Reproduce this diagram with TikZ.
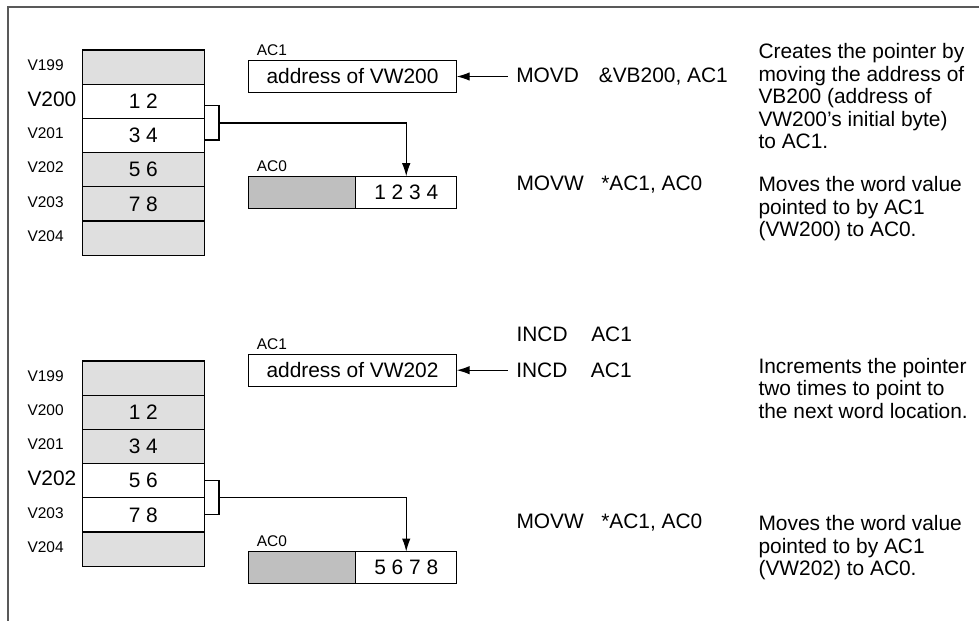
\documentclass[tikz,border=0pt]{standalone}
\usepackage{fontspec}
\setmainfont{Liberation Sans}
\usetikzlibrary{positioning,arrows.meta}

\newcommand\tagfont{\fontsize{8.8}{10}\selectfont}

\tikzset{
  cell/.style={draw, outer sep=0pt, inner sep=0pt, minimum width=2.43cm, minimum height=0.684cm},
  reg/.style={draw, outer sep=0pt, inner sep=0pt, minimum height=0.64cm},
  tag/.style={font=\tagfont, inner sep=0pt},
  instr/.style={anchor=west, inner xsep=0.16cm, inner ysep=0pt},
  note/.style={anchor=north west, align=left, inner sep=0pt},
  ptr/.style={-{Latex[length=2.6mm,width=1.7mm]}},
}

\begin{document}
\begin{tikzpicture}[x=0.02cm, y=-0.02cm, font=\fontsize{11.9}{12.8}\selectfont, line width=0.6pt]
  \useasboundingbox (0,0) rectangle (979,621);
  \draw[line width=1.1pt, black!65] (8,621) -- (8,7) -- (979,7);  % frame

  % top half: pointer to VW200
  \foreach \adr/\val/\shade/\lsize [count=\i from 0] in
      {199//gray!25/\tagfont, 200/1 2/white/, 201/3 4/white/\tagfont,
       202/5 6/gray!25/\tagfont, 203/7 8/gray!25/\tagfont, 204//gray!25/\tagfont}{
    \node[cell, fill=\shade] (t\adr) at (143.35, {67.1+34.2*\i}) {\val};
    \node[anchor=west, inner sep=0pt] (lt\adr) at (27, {65+34.2*\i}) {\lsize V\adr};
  }
  \coordinate (tj) at (219,123);
  \draw ([yshift=-0.09cm]t200.east) -| (tj) |- ([yshift=-0.09cm]t201.east);

  \node[reg, minimum width=4.17cm] (ta1) at (352.5,76.5) {address of VW200};
  \node[tag, above right=0.08cm and 0.16cm of ta1.north west] (ta1l) {AC1};
  \node[reg, fill=gray!50, minimum width=2.15cm] (ta0) at (302,192.2) {};
  \node[reg, minimum width=2.02cm, right=0pt of ta0] (tv) {1 2 3 4};
  \node[tag, above right=0.08cm and 0.16cm of ta0.north west] (ta0l) {AC0};
  \draw[ptr] (tj) -| (tv.north);

  \node[instr, right=1.02cm of ta1] (ti1) {MOVD\hspace{0.95em}\&VB200, AC1};
  \node[instr] (ti2) at (508,185) {MOVW\hspace{0.83em}*AC1, AC0};
  \draw[ptr] (ti1) -- (ta1);

  \node[note] (tn1) at (758,43) {Creates the pointer by\\moving the address of\\VB200 (address of\\VW200’s initial byte)\\to AC1.};
  \node[note] (tn2) at (758,176) {Moves the word value\\pointed to by AC1\\(VW200) to AC0.};

  % bottom half: pointer moved on to VW202
  \foreach \adr/\val/\shade/\lsize [count=\i from 0] in
      {199//gray!25/\tagfont, 200/1 2/gray!25/\tagfont, 201/3 4/gray!25/\tagfont,
       202/5 6/white/, 203/7 8/white/\tagfont, 204//gray!25/\tagfont}{
    \node[cell, fill=\shade] (b\adr) at (143.35, {378.1+34.2*\i}) {\val};
    \node[anchor=west, inner sep=0pt] (lb\adr) at (27, {376+34.2*\i}) {\lsize V\adr};
  }
  \coordinate (bj) at (219,497.5);
  \draw (b202.east) -| (bj) |- (b203.east);

  \node[reg, minimum width=4.17cm] (ba1) at (352.5,370.2) {address of VW202};
  \node[tag, above right=0.08cm and 0.16cm of ba1.north west] (ba1l) {AC1};
  \node[reg, fill=gray!50, minimum width=2.15cm] (ba0) at (302,567.5) {};
  \node[reg, minimum width=2.02cm, right=0pt of ba0] (bv) {5 6 7 8};
  \node[tag, above right=0.08cm and 0.16cm of ba0.north west] (ba0l) {AC0};
  \draw[ptr] (bj) -| (bv.north);

  \node[instr] (bi0) at (508,334) {INCD\hspace{1.13em}AC1};
  \node[instr, right=1.02cm of ba1] (bi1) {INCD\hspace{1.13em}AC1};
  \node[instr] (bi2) at (508,522.7) {MOVW\hspace{0.83em}*AC1, AC0};
  \draw[ptr] (bi1) -- (ba1);

  \node[note] (bn1) at (758,357.5) {Increments the pointer\\two times to point to\\the next word location.};
  \node[note] (bn2) at (758,515) {Moves the word value\\pointed to by AC1\\(VW202) to AC0.};
\end{tikzpicture}
\end{document}
